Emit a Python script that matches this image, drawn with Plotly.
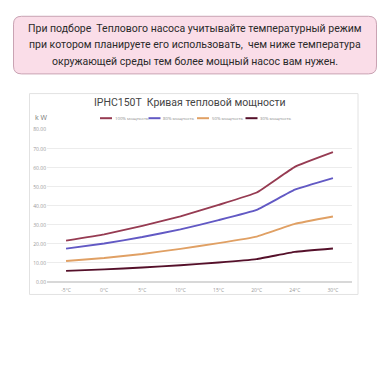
import plotly.graph_objects as go

temps = ["-5°C", "0°C", "5°C", "10°C", "15°C", "20°C", "24°C", "30°C"]
p100 = [21.7, 25.0, 29.5, 34.5, 40.5, 47.0, 60.5, 68.2]
p80 = [17.5, 20.2, 23.6, 27.6, 32.5, 37.9, 48.5, 54.6]
p50 = [11.0, 12.6, 14.7, 17.4, 20.4, 23.8, 30.5, 34.4]
p30 = [5.8, 6.6, 7.6, 8.8, 10.2, 12.0, 15.8, 17.6]
names = ["100% мощность", "80% мощность", "50% мощность", "30% мощность"]
colors = ["#963b52", "#6259c4", "#e0a064", "#55102a"]
yticks = [0, 10, 20, 30, 40, 50, 60, 70, 80]
notice = ["При подборе  Теплового насоса учитывайте температурный режим",
          "при котором планируете его использовать,  чем ниже температура",
          "окружающей среды тем более мощный насос вам нужен."]

W = H = 390
def px(x): return x / W
def py(y): return 1 - y / H

def rounded_rect(x0, y0, x1, y1, r):
    pts = [
        f"M {px(x0 + r)} {py(y0)}", f"L {px(x1 - r)} {py(y0)}",
        f"Q {px(x1)} {py(y0)} {px(x1)} {py(y0 + r)}", f"L {px(x1)} {py(y1 - r)}",
        f"Q {px(x1)} {py(y1)} {px(x1 - r)} {py(y1)}", f"L {px(x0 + r)} {py(y1)}",
        f"Q {px(x0)} {py(y1)} {px(x0)} {py(y1 - r)}", f"L {px(x0)} {py(y0 + r)}",
        f"Q {px(x0)} {py(y0)} {px(x0 + r)} {py(y0)}", "Z",
    ]
    return " ".join(pts)

fig = go.Figure()
for name, vals, c in zip(names, [p100, p80, p50, p30], colors):
    fig.add_trace(go.Scatter(x=temps, y=vals, mode="lines", name=name, showlegend=False,
                             line=dict(color=c, width=1.9, shape="spline", smoothing=0.3)))

shapes = [
    dict(type="path", xref="paper", yref="paper", path=rounded_rect(13.5, 13.5, 376.5, 72, 8),
         fillcolor="#fadde8", line=dict(color="#c9a3b3", width=1), layer="below"),
    dict(type="rect", xref="paper", yref="paper", x0=px(29.5), x1=px(358),
         y0=py(296), y1=py(92), fillcolor="rgba(0,0,0,0)",
         line=dict(color="#e2e2e2", width=1)),
]
annotations = []
for i, line in enumerate(notice):
    annotations.append(dict(xref="paper", yref="paper", x=px(195), y=py(26 + 16.5 * i),
                            xanchor="center", yanchor="middle", showarrow=False, text=line,
                            font=dict(size=10.5, color="#2a2a2a", family="Roboto")))
annotations += [
    dict(xref="paper", yref="paper", x=px(190), y=py(101.5), xanchor="center", yanchor="middle",
         showarrow=False, text="IPHC150T  Кривая тепловой мощности",
         font=dict(size=10.5, color="#444", family="Roboto")),
    dict(xref="paper", yref="paper", x=px(33), xanchor="left", y=py(116), yanchor="middle",
         showarrow=False, text="k W", font=dict(size=7, color="#777", family="Open Sans")),
]
# legend (manual, compact like the reference)
for i, (name, c) in enumerate(zip(names, colors)):
    x0 = 100 + 48.5 * i
    shapes.append(dict(type="line", xref="paper", yref="paper", x0=px(x0), x1=px(x0 + 12),
                       y0=py(117), y1=py(117), line=dict(color=c, width=2)))
    annotations.append(dict(xref="paper", yref="paper", x=px(x0 + 12.5), y=py(117),
                            xanchor="left", yanchor="middle", showarrow=False, text=name,
                            font=dict(size=4.3, color="#888", family="Open Sans")))

fig.update_layout(
    width=W, height=H, margin=dict(l=0, r=0, t=0, b=0),
    paper_bgcolor="white", plot_bgcolor="white",
    font=dict(family="Open Sans", color="#888"),
    xaxis=dict(domain=[px(47), px(352)], type="category", range=[-0.5, 7.5],
               showgrid=False, showline=False, ticks="", ticklabelstandoff=4,
               tickfont=dict(size=5, color="#999")),
    yaxis=dict(domain=[py(283.3), py(128.7)], range=[0, 80], tickvals=yticks,
               ticktext=[f"{v:.2f}" for v in yticks], showgrid=True,
               gridcolor="#ececec", gridwidth=1, zeroline=True, zerolinecolor="#d8d8d8",
               ticks="", tickfont=dict(size=5, color="#999")),
    showlegend=False,
    shapes=shapes,
    annotations=annotations,
)

fig.write_html("out.html")
